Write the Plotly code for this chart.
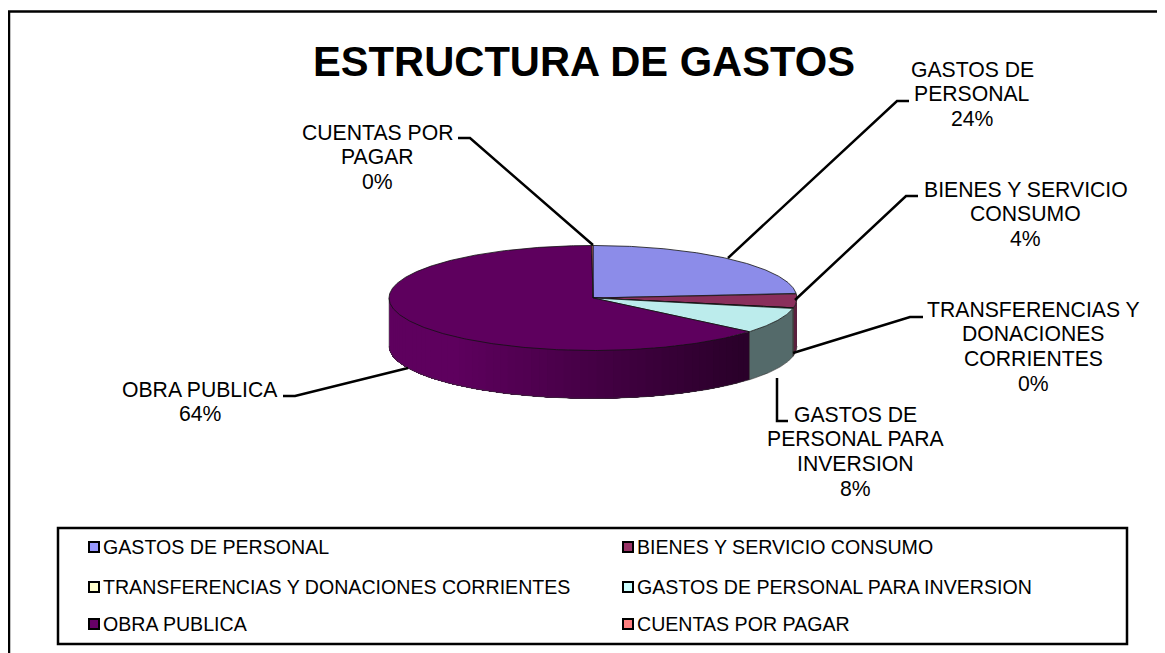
import math
import plotly.graph_objects as go

# ---- data ----
categories = ["GASTOS DE PERSONAL", "BIENES Y SERVICIO CONSUMO",
              "TRANSFERENCIAS Y DONACIONES CORRIENTES", "GASTOS DE PERSONAL PARA INVERSION",
              "OBRA PUBLICA", "CUENTAS POR PAGAR"]
values = [23.6, 4.4, 0.2, 7.9, 63.8, 0.1]
title_text = "ESTRUCTURA DE GASTOS"

# ---- styles ----
top_colors = ["#8C8CE9", "#8A2F5C", "#F0F0C0", "#BCECEC", "#5E005E", "#F08080"]
side_colors = ["#55558C", "#5A1F3E", "#909070", "#546A6A", "#5E005E", "#905050"]
legend_colors = ["#9999FF", "#993366", "#FFFFCC", "#CCFFFF", "#660066", "#FF8080"]
FONT = "Liberation Sans, Arial, sans-serif"
W, H = 1165, 653
PAGE = 8  # the page's own margin
CX, CY, RX, RY, DEPTH = 593, 298, 204, 52.5, 48

label_lines = [
    ["GASTOS DE", "PERSONAL"], ["BIENES Y SERVICIO", "CONSUMO"],
    ["TRANSFERENCIAS Y", "DONACIONES", "CORRIENTES"],
    ["GASTOS DE", "PERSONAL PARA", "INVERSION"], ["OBRA PUBLICA"], ["CUENTAS POR", "PAGAR"]]
label_pos = [(972, 69), (1025.5, 189), (1033, 309), (855, 414), (200, 389), (377, 132)]
leaders = [
    [(728, 258), (897, 101), (909, 101)],
    [(795, 300), (906, 196), (918, 196)],
    [(793, 353), (910, 317), (923, 317)],
    [(777, 378), (777, 421), (788, 421)],
    [(408, 368), (295, 396), (283, 396)],
    [(593, 245), (470, 138), (458, 138)],
]
legend_x = [94, 628]
legend_y = [547, 587, 624]


def pt(angle, dy=0.0):
    return CX + RX * math.sin(angle), CY - RY * math.cos(angle) + dy


def arc(a0, a1, dy=0.0):
    n = max(2, int(abs(a1 - a0) / 0.01))
    return [pt(a0 + (a1 - a0) * i / n, dy) for i in range(n + 1)]


def shade(hexcolor, f):
    r, g, b = (int(hexcolor[i:i + 2], 16) for i in (1, 3, 5))
    return f"rgb({int(r * f)},{int(g * f)},{int(b * f)})"


fig = go.Figure()


def poly(points, color, line=None, width=0.8):
    fig.add_trace(go.Scatter(
        x=[p[0] for p in points], y=[p[1] for p in points], mode="lines", fill="toself",
        fillcolor=color, line=dict(color=line or color, width=width if line else 0),
        hoverinfo="skip", showlegend=False))


def stroke(points, color, width):
    fig.add_trace(go.Scatter(x=[p[0] for p in points], y=[p[1] for p in points], mode="lines",
                             line=dict(color=color, width=width), hoverinfo="skip", showlegend=False))


total = sum(values)
edges = [0.0]
for v in values:
    edges.append(edges[-1] + v / total * 2 * math.pi)

# side walls (only the front half of the disc shows one)
for i in range(len(values)):
    a0, a1 = max(edges[i], math.pi / 2), min(edges[i + 1], 3 * math.pi / 2)
    if a1 <= a0:
        continue
    if categories[i] == "OBRA PUBLICA":
        n = 60
        for k in range(n):
            s0 = a0 + (a1 - a0) * k / n
            x_mid = pt(s0)[0]
            f = 0.45 + 0.55 * min(1.0, max(0.0, (745 - x_mid) / 285))
            # each band reaches to the far end of the wall, the next one paints over it
            poly(arc(s0, a1) + arc(a1, s0, DEPTH), shade(side_colors[i], f))
    else:
        poly(arc(a0, a1) + arc(a1, a0, DEPTH), side_colors[i])

# outline of visible wall
for i in range(len(values)):
    a0, a1 = max(edges[i], math.pi / 2), min(edges[i + 1], 3 * math.pi / 2)
    if a1 > a0:
        stroke(arc(a0, a1, DEPTH), "#333333", 0.6)
    if a1 > a0 and a0 > math.pi / 2:
        stroke([pt(a0), pt(a0, DEPTH)], "#222222", 0.7)
stroke([pt(3 * math.pi / 2), pt(3 * math.pi / 2, DEPTH)], "#666666", 0.6)

# top faces
for i in range(len(values)):
    poly([(CX, CY)] + arc(edges[i], edges[i + 1]) + [(CX, CY)], top_colors[i], line="#111111")

# leader lines
for seg in leaders:
    stroke(seg, "black", 2.5)

# data labels
annotations = []
for i, (lines, (lx, ly)) in enumerate(zip(label_lines, label_pos)):
    for j, txt in enumerate(lines + [f"{round(values[i] / total * 100)}%"]):
        annotations.append(dict(x=lx, y=ly + j * 24.8, text=txt, showarrow=False, xanchor="center",
                                yanchor="middle", font=dict(family=FONT, size=21.2, color="black")))
annotations.append(dict(x=584, y=61, text=f"<b>{title_text}</b>", showarrow=False, xanchor="center",
                        yanchor="middle", font=dict(family=FONT, size=41.7, color="black")))

# legend
for i, name in enumerate(categories):
    lx, ly = legend_x[i % 2], legend_y[i // 2]
    fig.add_trace(go.Scatter(
        x=[lx], y=[ly], mode="markers",
        marker=dict(symbol="square", size=10, color=legend_colors[i], line=dict(color="black", width=2)),
        hoverinfo="skip", showlegend=False))
    annotations.append(dict(x=lx + 6.5, y=ly, text=name, showarrow=False, xanchor="left", yanchor="middle",
                            font=dict(family=FONT, size=19.6, color="black")))

shapes = [
    dict(type="rect", xref="x", yref="y", x0=9, y0=11.5, x1=1185, y1=680, line=dict(color="black", width=2.5), layer="below"),
    dict(type="rect", xref="x", yref="y", x0=58, y0=528, x1=1127, y1=644, line=dict(color="black", width=2.5), layer="below"),
]

fig.update_layout(
    width=W - PAGE, height=H - PAGE, margin=dict(l=0, r=0, t=0, b=0), paper_bgcolor="white", plot_bgcolor="white",
    xaxis=dict(range=[PAGE, W], visible=False, fixedrange=True),
    yaxis=dict(range=[H, PAGE], visible=False, fixedrange=True),
    shapes=shapes, annotations=annotations, showlegend=False)
fig.write_html("out.html", config={"displayModeBar": False})
